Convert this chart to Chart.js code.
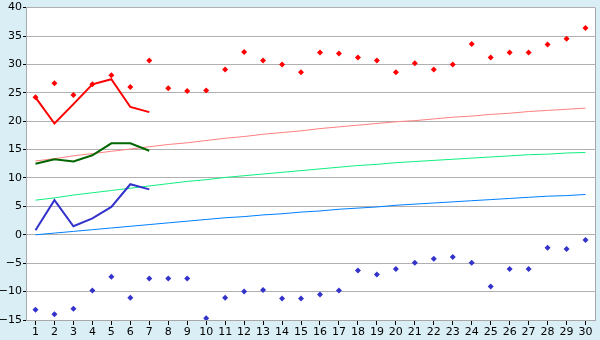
<!DOCTYPE html>
<html>
<head>
<meta charset="utf-8">
<script src="https://cdn.jsdelivr.net/npm/chart.js@4/dist/chart.umd.min.js"></script>
<style>
  html, body { margin: 0; padding: 0; background: #daeef5; }
  #wrap { width: 600px; height: 340px; position: relative; }
</style>
</head>
<body>
<div id="wrap"><canvas id="chart"></canvas></div>
<script>
const labels = Array.from({ length: 30 }, (_, i) => String(i + 1));
const yTicks = [-15, -10, -5, 0, 5, 10, 15, 20, 25, 30, 35, 40];

// markers only
const redPoints = [24.2, 26.7, 24.6, 26.5, 28.1, 26.0, 30.7, 25.8, 25.3, 25.4,
                   29.1, 32.2, 30.7, 30.0, 28.6, 32.1, 31.9, 31.2, 30.7, 28.6,
                   30.2, 29.1, 30.0, 33.6, 31.2, 32.1, 32.1, 33.5, 34.5, 36.4];
const bluePoints = [-13.2, -14.0, -13.0, -9.8, -7.4, -11.1, -7.7, -7.7, -7.7, -14.7,
                    -11.1, -10.0, -9.7, -11.2, -11.2, -10.5, -9.8, -6.3, -7.0, -6.0,
                    -4.9, -4.2, -3.9, -4.9, -9.1, -6.0, -6.0, -2.3, -2.5, -0.9];

// short lines (first 7 categories)
const redLine = [24.2, 19.6, 23.0, 26.5, 27.4, 22.5, 21.6];
const greenLine = [12.5, 13.3, 12.9, 14.0, 16.1, 16.1, 14.8];
const blueLine = [0.8, 6.1, 1.5, 2.9, 4.9, 8.9, 8.0];

// thin trend lines
const pinkTrend = [13.0, 13.4, 13.9, 14.3, 14.7, 15.1, 15.5, 15.9, 16.2, 16.6,
                   17.0, 17.3, 17.7, 18.0, 18.3, 18.7, 19.0, 19.3, 19.6, 19.9,
                   20.1, 20.4, 20.7, 20.9, 21.2, 21.4, 21.7, 21.9, 22.1, 22.3];
const lightGreenTrend = [6.1, 6.5, 7.0, 7.4, 7.8, 8.2, 8.6, 9.0, 9.4, 9.7,
                         10.1, 10.4, 10.7, 11.0, 11.3, 11.6, 11.9, 12.2, 12.4, 12.7,
                         12.9, 13.1, 13.3, 13.5, 13.7, 13.9, 14.1, 14.2, 14.4, 14.5];
const lightBlueTrend = [0.0, 0.3, 0.6, 0.9, 1.2, 1.5, 1.8, 2.1, 2.4, 2.7,
                        3.0, 3.2, 3.5, 3.7, 4.0, 4.2, 4.5, 4.7, 4.9, 5.2,
                        5.4, 5.6, 5.8, 6.0, 6.2, 6.4, 6.6, 6.8, 6.9, 7.1];

const plotBg = {
    id: 'plotBg',
    beforeDraw(chart) {
        const { ctx, chartArea: a } = chart;
        ctx.save();
        ctx.fillStyle = '#ffffff';
        ctx.fillRect(a.left, a.top, a.right - a.left, a.bottom - a.top);
        ctx.strokeStyle = '#a8a8a8';
        ctx.lineWidth = 1;
        ctx.beginPath();
        ctx.moveTo(Math.round(a.right) + 0.5, a.top);
        ctx.lineTo(Math.round(a.right) + 0.5, a.bottom);
        ctx.stroke();
        ctx.restore();
    }
};

const line = (data, color, width, order) => ({
    type: 'line', data, borderColor: color, backgroundColor: color,
    borderWidth: width, pointRadius: 0, tension: 0, fill: false, order
});
const marks = (data, color) => ({
    type: 'line', data, showLine: false, pointStyle: 'rectRot',
    pointRadius: 3, pointBorderWidth: 0, pointBackgroundColor: color,
    borderColor: color, backgroundColor: color, order: 0
});

new Chart(document.getElementById('chart'), {
    type: 'line',
    data: {
        labels,
        datasets: [
            line(pinkTrend, '#ff8080', 1, 3),
            line(lightGreenTrend, '#10f080', 1, 3),
            line(lightBlueTrend, '#0080ff', 1, 3),
            line(redLine, '#ff0000', 2, 1),
            line(greenLine, '#006600', 2, 1),
            line(blueLine, '#3333cc', 2, 1),
            marks(redPoints, '#ff0000'),
            marks(bluePoints, '#3333cc')
        ]
    },
    options: {
        responsive: true,
        maintainAspectRatio: false,
        animation: false,
        layout: { padding: { top: 5, right: 5, left: 0, bottom: 0 } },
        plugins: { legend: { display: false }, tooltip: { enabled: false } },
        scales: {
            x: {
                offset: true,
                grid: { drawOnChartArea: false, drawTicks: true, tickLength: 5, color: '#000000' },
                border: { color: '#a8a8a8' },
                ticks: { color: '#000', font: { family: 'DejaVu Sans', size: 11 }, padding: 1, maxRotation: 0, autoSkip: false },
                afterFit(scale) { scale.height = 20; }
            },
            y: {
                min: -15, max: 40,
                afterBuildTicks(scale) { scale.ticks = yTicks.map(v => ({ value: v })); },
                grid: { color: '#b0b0b0', tickLength: 3, tickColor: '#000' },
                border: { color: '#a8a8a8' },
                ticks: {
                    color: '#000', font: { family: 'DejaVu Sans', size: 11 }, padding: 1,
                    callback: v => v < 0 ? '\u2212' + Math.abs(v) : String(v)
                },
                afterFit(scale) { scale.width = 26; }
            }
        }
    },
    plugins: [plotBg]
});
</script>
</body>
</html>
